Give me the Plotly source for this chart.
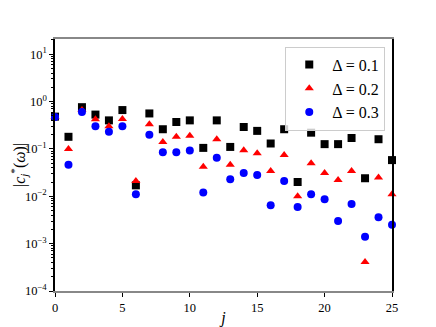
import plotly.graph_objects as go

j = list(range(26))
c_d01 = [0.48, 0.18, 0.76, 0.53, 0.40, 0.66, 0.017, 0.56, 0.26, 0.37, 0.40, 0.105, 0.40, 0.11, 0.29,
         0.24, 0.13, 0.26, 0.020, 0.22, 0.126, 0.126, 0.17, 0.024, 0.16, 0.058]
c_d02 = [0.48, 0.10, 0.66, 0.42, 0.30, 0.43, 0.021, 0.33, 0.14, 0.18, 0.19, 0.042, 0.16, 0.046, 0.094,
         0.081, 0.034, 0.074, 0.010, 0.050, 0.031, 0.022, 0.034, 0.00041, 0.025, 0.011]
c_d03 = [0.47, 0.046, 0.60, 0.30, 0.23, 0.30, 0.011, 0.20, 0.085, 0.085, 0.093, 0.012, 0.065, 0.023, 0.031,
         0.028, 0.0065, 0.021, 0.0059, 0.011, 0.0087, 0.0030, 0.0069, 0.0014, 0.0036, 0.0025]
names = ["Δ = 0.1", "Δ = 0.2", "Δ = 0.3"]
colors = ["black", "red", "blue"]
symbols = ["square", "triangle-up", "circle"]
y_exponents = [-4, -3, -2, -1, 0, 1]
x_ticks = [0, 5, 10, 15, 20, 25]

y_tickvals = [10.0 ** e for e in y_exponents]
y_ticktext = ["10<sup>%d</sup>" % e if e >= 0 else "10<sup>\u2212%d</sup>" % (-e) for e in y_exponents]
minor_vals = [m * 10.0 ** e for e in range(-4, 2) for m in range(2, 10)]

fig = go.Figure()
for ys, nm, col, sym in zip([c_d01, c_d02, c_d03], names, colors, symbols):
    fig.add_trace(go.Scatter(x=j, y=ys, mode="markers", name=nm,
                             marker=dict(color=col, symbol=sym, size=8, line=dict(width=0)),
                             cliponaxis=False))

font = "Liberation Serif, DejaVu Serif, serif"
fig.update_layout(
    width=428, height=319,
    margin=dict(l=47, r=44, t=31, b=36),
    paper_bgcolor="white", plot_bgcolor="white",
    font=dict(family=font, size=12.5, color="black"),
    showlegend=True,
    legend=dict(x=0.98, y=0.97, xanchor="right", yanchor="top",
                bordercolor="#cccccc", borderwidth=1, bgcolor="rgba(255,255,255,0.8)",
                font=dict(size=16, family=font), itemwidth=36, tracegroupgap=0),
    xaxis=dict(range=[0, 25], tickvals=x_ticks, showgrid=False, zeroline=False,
               showline=True, linecolor="#888888", linewidth=1.5, mirror=True,
               ticks="outside", ticklen=4, tickcolor="black", automargin=False,
               title=dict(text="<i>j</i>", font=dict(size=16), standoff=4)),
    yaxis=dict(type="log", range=[-4, 1.32], tickvals=y_tickvals, ticktext=y_ticktext, showgrid=False,
               zeroline=False, showline=True, linecolor="black", linewidth=1.5, mirror=True,
               ticks="outside", ticklen=4, tickcolor="black", automargin=False,
               minor=dict(ticks="outside", ticklen=2, tickcolor="black", showgrid=False,
                          tickmode="array", tickvals=minor_vals),
               title=dict(text="|<i>c</i><sub><i>j</i></sub><sup>*</sup>(<i>ω</i>)|", font=dict(size=16), standoff=2)),
)
fig.write_html("out.html")
